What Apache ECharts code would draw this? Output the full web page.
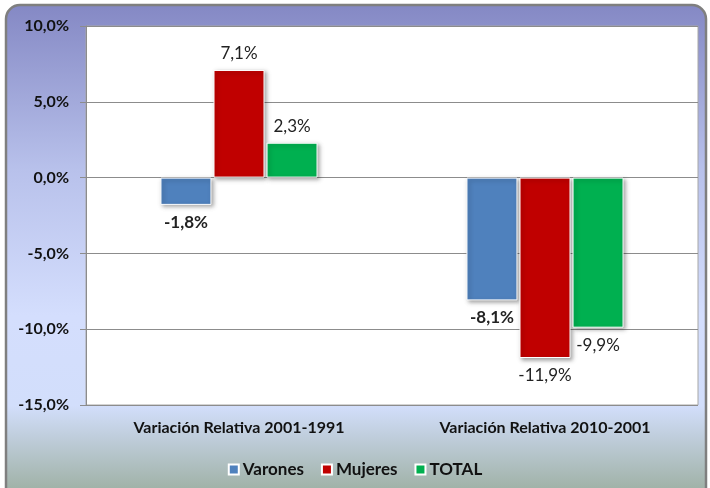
<!DOCTYPE html>
<html>
<head>
<meta charset="utf-8">
<script src="https://cdn.jsdelivr.net/npm/echarts@6/dist/echarts.min.js"></script>
<style>
  html, body { margin: 0; padding: 0; background: #fff; }
  #chart { width: 710px; height: 488px; }
</style>
</head>
<body>
<div id="chart"></div>
<script>
// Variación relativa por sexo, dos períodos intercensales
const categories = ['Variación Relativa 2001-1991', 'Variación Relativa 2010-2001']
const varones = [-1.8, -8.1]
const mujeres = [7.1, -11.9]
const total = [2.3, -9.9]

const COLORS = { Varones: '#4F81BD', Mujeres: '#C00000', TOTAL: '#00B050' }
const FONT = 'Lato, "Open Sans", sans-serif'

const fmt = (v) => v.toFixed(1).replace('.', ',') + '%'

function series(name, values, bold) {
  return {
    name, type: 'bar', barWidth: 51, barGap: '4%',
    itemStyle: {
      color: COLORS[name], borderColor: '#fff', borderWidth: 1,
      shadowBlur: 4, shadowOffsetX: 2, shadowOffsetY: 2, shadowColor: 'rgba(0,0,0,0.35)',
    },
    label: { show: true, formatter: (p) => fmt(p.value), color: '#222', fontSize: 17,
      fontFamily: FONT, fontWeight: bold ? 'bold' : 'normal' },
    data: values.map((v) => ({
      value: v,
      label: { position: v < 0 ? 'bottom' : 'top', distance: v < 0 ? 9 : 8 },
    })),
  }
}

const chart = echarts.init(document.getElementById('chart'))
chart.setOption({
  animation: false,
  textStyle: { fontFamily: FONT },
  graphic: [{
    type: 'rect', z: -10, silent: true,
    shape: { x: 6, y: 5, width: 700, height: 500, r: 14 },
    style: {
      stroke: '#7f7f7f', lineWidth: 2.5,
      fill: new echarts.graphic.LinearGradient(0, 0, 0, 1, [
        { offset: 0, color: '#8488C4' },
        { offset: 0.33, color: '#B8C1EB' },
        { offset: 0.62, color: '#D4DEFD' },
        { offset: 0.8, color: '#D2DEFB' },
        { offset: 1, color: '#96A996' },
      ]),
    },
  }],
  grid: { left: 86, right: 12, top: 26, bottom: 83, show: true,
    backgroundColor: '#fff', borderColor: '#a6a6a6', borderWidth: 1 },
  legend: {
    top: 456, left: 'center', itemWidth: 10, itemHeight: 10, itemGap: 17,
    icon: 'rect',
    textStyle: { color: '#111', fontSize: 17, fontWeight: 'bold', fontFamily: FONT, padding: [0, 0, 0, -1] },
    data: ['Varones', 'Mujeres', 'TOTAL'],
  },
  xAxis: {
    type: 'category', data: categories,
    axisLine: { show: false }, axisTick: { show: false },
    axisLabel: { color: '#111', fontSize: 16, fontWeight: 'bold', margin: 15 },
  },
  yAxis: {
    type: 'value', min: -15, max: 10, interval: 5,
    axisLine: { show: true, lineStyle: { color: '#8c8c8c' } },
    axisTick: { show: true, length: 6, lineStyle: { color: '#8c8c8c' } },
    axisLabel: { color: '#111', fontSize: 16, fontWeight: 'bold', margin: 17, formatter: fmt },
    splitLine: { lineStyle: { color: '#8c8c8c' } },
  },
  series: [
    series('Varones', varones, true),
    series('Mujeres', mujeres, false),
    series('TOTAL', total, false),
  ],
})
</script>
</body>
</html>
